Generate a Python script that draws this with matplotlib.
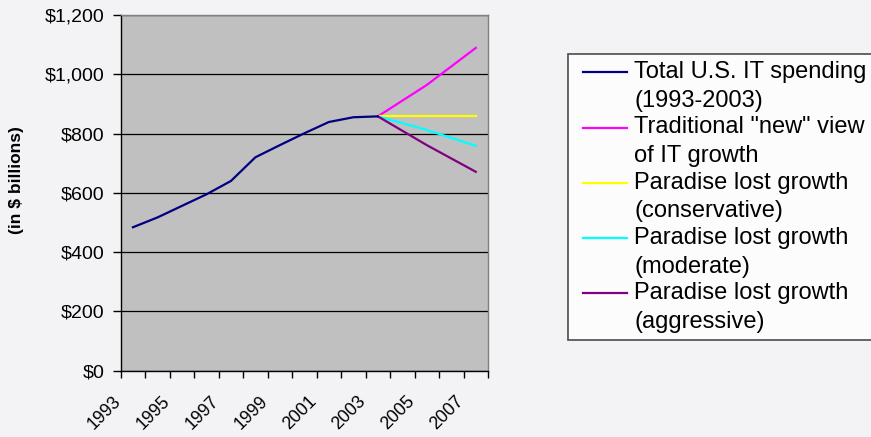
import matplotlib
matplotlib.use("Agg")
import matplotlib.pyplot as plt
import matplotlib.transforms as mtransforms
from matplotlib.legend_handler import HandlerLine2D
from matplotlib.ticker import FuncFormatter, FixedLocator, NullFormatter

plt.rcParams["font.family"] = ["Liberation Sans", "DejaVu Sans"]

# Category axis: one slot per year
years = list(range(1993, 2008))

# Actual spending, 1993-2003 (in $ billions)
total_years = list(range(1993, 2004))
total_spending = [484, 517, 556, 595, 640, 720, 761, 801, 839, 855, 858]

# Projections from 2003 out to 2007
proj_years = [2003, 2005, 2007]
traditional = [858, 964, 1089]
lost_conservative = [858, 858, 858]
lost_moderate = [858, 812, 759]
lost_aggressive = [858, 761, 671]

series_labels = [
    "Total U.S. IT spending\n(1993-2003)",
    "Traditional \"new\" view\nof IT growth",
    "Paradise lost growth\n(conservative)",
    "Paradise lost growth\n(moderate)",
    "Paradise lost growth\n(aggressive)",
]
series_colors = ["#000080", "#ff00ff", "#ffff00", "#00ffff", "#800080"]

y_ticks = [0, 200, 400, 600, 800, 1000, 1200]
x_label_years = years[::2]


def slot(yrs):
    return [years.index(y) for y in yrs]


class FirstLineHandler(HandlerLine2D):
    """Legend line aligned with the first text line and inset from the left."""

    def __init__(self, dx, dy, **kw):
        super().__init__(**kw)
        self.dx = dx
        self.dy = dy

    def create_artists(self, legend, orig_handle, xdescent, ydescent,
                       width, height, fontsize, trans):
        artists = super().create_artists(legend, orig_handle, xdescent, ydescent,
                                         width, height, fontsize, trans)
        for a in artists:
            xd = list(a.get_xdata())
            yd = [y + self.dy for y in a.get_ydata()]
            xd = [xd[0] + self.dx] + xd[1:]
            a.set_xdata(xd)
            a.set_ydata(yd)
        return artists


fig = plt.figure(figsize=(8.71, 4.37), dpi=100, facecolor="#f3f3f5")
ax = fig.add_axes([0.1386, 0.1517, 0.4217, 0.814])
ax.set_facecolor("#c0c0c0")

series = [
    (total_years, total_spending),
    (proj_years, traditional),
    (proj_years, lost_conservative),
    (proj_years, lost_moderate),
    (proj_years, lost_aggressive),
]
lines = {}
# projections first so the actual line sits on top at the join
for i in [1, 2, 3, 4, 0]:
    yrs, vals = series[i]
    (ln,) = ax.plot(slot(yrs), vals, color=series_colors[i], lw=1.6,
                    solid_joinstyle="miter", zorder=3)
    lines[i] = ln
handles = [lines[i] for i in range(len(series))]

ax.set_xlim(-0.5, len(years) - 0.5)
ax.set_ylim(0, 1200)

# y axis
ax.set_yticks(y_ticks)
ax.yaxis.set_major_formatter(FuncFormatter(lambda v, p: "${:,.0f}".format(v)))
ax.tick_params(axis="y", direction="out", length=6, width=1, pad=5.5,
               labelsize=14, colors="black")
ax.grid(axis="y", color="black", lw=0.9, zorder=1)
ax.set_axisbelow(True)

# x axis: tick marks on category boundaries, year labels every other slot
ax.xaxis.set_major_locator(FixedLocator([i - 0.5 for i in range(len(years) + 1)]))
ax.xaxis.set_major_formatter(NullFormatter())
ax.tick_params(axis="x", which="major", direction="out", length=5, width=1)
label_trans = ax.get_xaxis_transform() + mtransforms.ScaledTranslation(
    -21 / 100, -22 / 100, fig.dpi_scale_trans)
for yr, pos in zip(x_label_years, slot(x_label_years)):
    ax.text(pos, 0, str(yr), transform=label_trans, rotation=45,
            rotation_mode="anchor", ha="right", va="top", fontsize=12.8,
            clip_on=False)

for side in ["left", "bottom"]:
    ax.spines[side].set_color("black")
    ax.spines[side].set_linewidth(1)
for side in ["top", "right"]:
    ax.spines[side].set_color("#808080")
    ax.spines[side].set_linewidth(1)

fig.text(17 / 871, 1 - 180 / 437, "(in $ billions)", rotation=90,
         ha="center", va="center", fontsize=12.5, fontweight="bold")

leg = fig.legend(
    handles, series_labels,
    loc="upper left", bbox_to_anchor=(568 / 871, 1 - 54 / 437),
    bbox_transform=fig.transFigure,
    fontsize=17, frameon=True, fancybox=False, shadow=False,
    borderpad=0.3, borderaxespad=0, handlelength=2.2, handletextpad=0.3,
    labelspacing=0.19,
    handler_map={ln: FirstLineHandler(dx=5.7, dy=10.4) for ln in handles},
)
leg.get_frame().set_edgecolor("#202020")
leg.get_frame().set_linewidth(1.2)
leg.get_frame().set_facecolor("white")
for t in leg.get_texts():
    t.set_linespacing(1.40)

fig.savefig("out.png", dpi=100, facecolor=fig.get_facecolor())
